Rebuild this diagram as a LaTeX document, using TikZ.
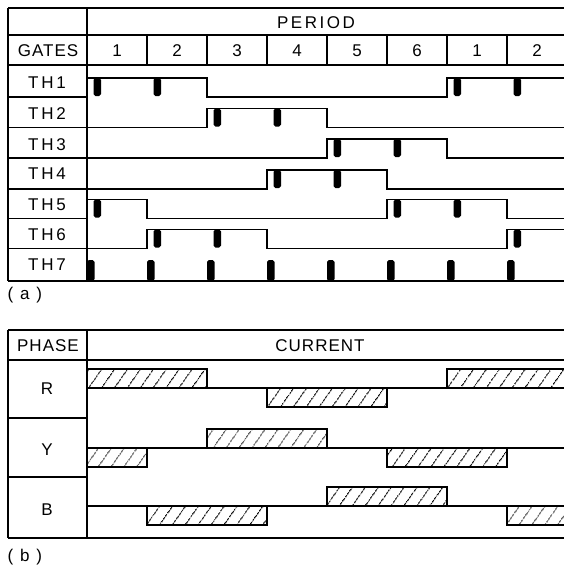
\documentclass[tikz,border=0pt]{standalone}
\usepackage{fontspec}
\setmainfont{Liberation Sans}
\newfontfamily\lblfont[LetterSpace=6]{Liberation Sans}
\newfontfamily\thfont[LetterSpace=16]{Liberation Sans}
\newfontfamily\perfont[LetterSpace=15]{Liberation Sans}
\newfontfamily\capfont[LetterSpace=40]{Liberation Sans}
\usetikzlibrary{patterns.meta}
\begin{document}
\begin{tikzpicture}[x=1pt,y=-1pt,line width=1.3pt,
  lbl/.style={font=\lblfont\fontsize{17}{17}\selectfont,inner sep=0pt,anchor=center},
  thl/.style={font=\thfont\fontsize{17}{17}\selectfont,inner sep=0pt,anchor=center},
  wlbl/.style={font=\perfont\fontsize{17}{17}\selectfont,inner sep=0pt},
  clbl/.style={font=\capfont\fontsize{17}{17}\selectfont,inner sep=0pt,anchor=west},
  wave/.style={line width=1.4pt,line join=miter},
  gp/.style={fill=black,draw=none,rounded corners=1.8pt},
  hb/.style={draw,line width=1.3pt,pattern={Lines[angle=55,distance=10.5pt,line width=1pt]}}]
\clip (0,0) rectangle (564,570);
% ---------- (a) table ----------
\draw (8,8) -- (570,8);
\draw (8,35) -- (570,35);
\draw (8,65) -- (570,65);
\draw (8,8) -- (8,281);
\draw (87,8) -- (87,281);
\foreach \k in {1,...,7} \draw (87+60*\k,35) -- (87+60*\k,65);
\foreach \y in {97,127.5,158,189,218.5,248.5} \draw (8,\y) -- (87,\y);
\node[wlbl] (period) at (316,22.5) {PERIOD};
\node[lbl] (gates) at (48,51) {GATES};
\foreach \n/\k in {1/0,2/1,3/2,4/3,5/4,6/5,1/6,2/7}
  \node[lbl] (p\k) at (117+60*\k,51) {\n};
\node[thl] (th1) at (47,83) {TH1};
\node[thl] (th2) at (47,114) {TH2};
\node[thl] (th3) at (47,144.5) {TH3};
\node[thl] (th4) at (47,174) {TH4};
\node[thl] (th5) at (47,204.5) {TH5};
\node[thl] (th6) at (47,234.5) {TH6};
\node[thl] (th7) at (47,265) {TH7};
% waveforms
\draw[wave] (87,78) -- (207,78) -- (207,97) -- (447,97) -- (447,78) -- (570,78);
\draw[wave] (87,127.5) -- (207,127.5) -- (207,108.5) -- (327,108.5) -- (327,127.5) -- (570,127.5);
\draw[wave] (87,158) -- (327,158) -- (327,139) -- (447,139) -- (447,158) -- (570,158);
\draw[wave] (87,189) -- (267,189) -- (267,170) -- (387,170) -- (387,189) -- (570,189);
\draw[wave] (87,199.5) -- (147,199.5) -- (147,218.5) -- (387,218.5) -- (387,199.5) -- (507,199.5) -- (507,218.5) -- (570,218.5);
\draw[wave] (87,248.5) -- (147,248.5) -- (147,229.5) -- (267,229.5) -- (267,248.5) -- (507,248.5) -- (507,229.5) -- (570,229.5);
\draw[wave] (8,281) -- (570,281);
% gate pulses
\foreach \c in {87,147,447,507} \fill[gp] (\c+6.5,78) rectangle (\c+14,96);
\foreach \c in {207,267} \fill[gp] (\c+6.5,108.5) rectangle (\c+14,126.5);
\foreach \c in {327,387} \fill[gp] (\c+6.5,139) rectangle (\c+14,157);
\foreach \c in {267,327} \fill[gp] (\c+6.5,170) rectangle (\c+14,188);
\foreach \c in {87,387,447} \fill[gp] (\c+6.5,199.5) rectangle (\c+14,217.5);
\foreach \c in {147,207,507} \fill[gp] (\c+6.5,229.5) rectangle (\c+14,247.5);
\foreach \c in {87,147,207,267,327,387,447,507} \fill[gp] (\c,260) rectangle (\c+7.5,281);
\node[clbl] (cap-a) at (7,295) {(a)};
% ---------- (b) table ----------
\draw (8,330) -- (570,330);
\draw (8,360) -- (570,360);
\draw (8,538) -- (570,538);
\draw (8,330) -- (8,538);
\draw (87,330) -- (87,538);
\draw (8,418) -- (87,418);
\draw (8,477) -- (87,477);
\node[lbl] (phase) at (48,346) {PHASE};
\node[lbl] (current) at (320,345.5) {CURRENT};
\node[lbl] (r) at (47,389) {R};
\node[lbl] (yy) at (47,450) {Y};
\node[lbl] (b) at (47,510) {B};
% current blocks
\draw[hb] (87,369) rectangle (207,388);
\draw[hb] (267,388) rectangle (387,407);
\draw[hb] (447,369) rectangle (575,388);
\draw[hb] (87,448) rectangle (147,467);
\draw[hb] (207,429) rectangle (327,448);
\draw[hb] (387,448) rectangle (507,467);
\draw[hb] (147,506) rectangle (267,525);
\draw[hb] (327,487) rectangle (447,506);
\draw[hb] (507,506) rectangle (575,525);
\draw (87,388) -- (570,388);
\draw (87,448) -- (570,448);
\draw (87,506) -- (570,506);
\node[clbl] (cap-b) at (7,557) {(b)};
\end{tikzpicture}
\end{document}
